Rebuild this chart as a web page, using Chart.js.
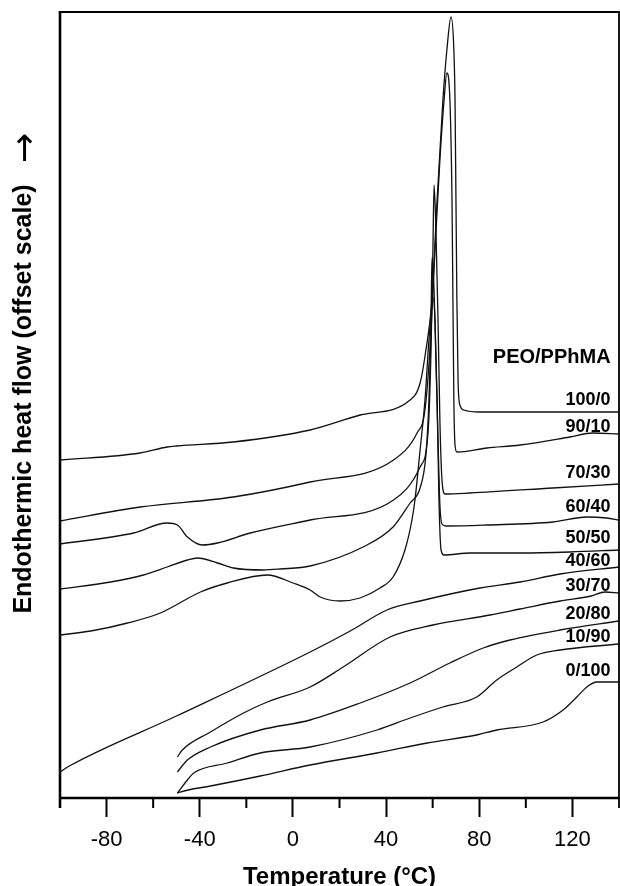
<!DOCTYPE html>
<html>
<head>
<meta charset="utf-8">
<script src="https://cdn.jsdelivr.net/npm/chart.js@4.4.0/dist/chart.umd.min.js"></script>
<style>
  html, body { margin: 0; padding: 0; background: #fff; }
</style>
</head>
<body>
<canvas id="dsc" width="620" height="886"></canvas>
<script>
// Curvas DSC de mezclas PEO/PPhMA
// temperatura en °C, flujo de calor en unidades arbitrarias (escala desplazada)
const t100_0 = [-100, -65.6, -54, -50, -25.6, 7.4, 28.9, 50.3, 54.6, 57.1, 59.7, 61.9, 64.4, 66.1, 67.9, 69.1, 69.6, 70.0, 70.4, 70.9, 71.7, 73.4, 80, 110, 140];
const h100_0 = [33.7, 34.4, 35.0, 35.1, 35.5, 36.7, 38.2, 39.7, 41.4, 44.7, 49.7, 59.7, 69.7, 74.7, 78.0, 74.7, 69.7, 59.7, 49.7, 41.7, 39.2, 38.7, 38.5, 38.5, 38.5];

const t90_10 = [-100, -65.6, -25.6, 7.4, 43.2, 53.3, 56.7, 58.8, 61.0, 63.1, 64.9, 66.1, 67.4, 68.3, 68.7, 69.1, 69.6, 70.4, 83.3, 97.5, 118.9, 128.7, 140];
const h90_10 = [27.6, 29.0, 30.0, 31.5, 33.7, 36.4, 38.7, 44.7, 54.7, 63.7, 69.7, 72.4, 69.7, 59.7, 49.7, 39.7, 35.2, 34.5, 34.9, 35.2, 36.0, 36.4, 36.3];

const t70_30 = [-100, -68.4, -54, -49.6, -45.3, -38.9, -32.4, -18.3, 7.4, 43.2, 54.6, 58.0, 59.3, 60.1, 60.6, 61.4, 62.3, 63.1, 64.0, 65.3, 76, 111.6, 140];
const h70_30 = [25.3, 26.4, 27.4, 27.2, 26.0, 25.2, 25.4, 26.4, 27.7, 29.7, 33.0, 36.4, 44.7, 54.7, 61.2, 56.7, 47.7, 37.7, 31.7, 30.3, 30.4, 30.9, 31.3];

const t60_40 = [-100, -78.3, -64.2, -54, -45.3, -41, -32.4, -25.6, -12.7, -5.4, 7.4, 30.1, 43, 50.3, 54.6, 57.1, 58.4, 59.3, 59.7, 60.6, 61.4, 62.3, 63.1, 64.0, 65.7, 83.3, 111.6, 126.2, 134.7, 140];
const h60_40 = [20.8, 21.5, 22.2, 23.0, 23.7, 23.9, 23.4, 22.9, 22.7, 22.8, 23.1, 25.0, 27.0, 29.4, 30.9, 34.2, 39.7, 47.7, 53.9, 50.7, 43.7, 35.7, 29.2, 27.3, 27.1, 27.2, 27.5, 28.0, 27.9, 27.7];

const t50_50 = [-100, -86.8, -71, -56.9, -39.7, -28.2, -11, 0.1, 7.4, 11.7, 20.3, 28.8, 37.4, 43, 48.1, 51.1, 52.4, 54.6, 56.7, 58.4, 60.2, 61.0, 61.9, 62.7, 63.6, 64.9, 76, 97.5, 118.9, 140];
const h50_50 = [16.2, 16.6, 17.4, 18.4, 20.5, 21.4, 22.2, 21.4, 20.7, 20.0, 19.6, 19.9, 20.9, 22.0, 24.7, 27.7, 29.7, 34.7, 39.7, 45.7, 49.9, 47.7, 39.7, 29.7, 24.7, 24.2, 24.4, 24.4, 24.5, 24.7];

const t40_60 = [-100, -96, -50, 7.4, 24.6, 40.4, 54.6, 80.3, 97.5, 114.7, 140];
const h40_60 = [2.5, 3.1, 8.1, 14.5, 16.6, 18.7, 19.6, 20.9, 21.5, 22.3, 23.0];

const t30_70 = [-49.6, -47.5, -35.4, -21.2, -11, 7.4, 21.6, 41.7, 60.1, 84.6, 97.5, 114.7, 128, 134, 140];
const h30_70 = [4.0, 4.7, 6.5, 8.4, 9.5, 11.0, 13.0, 16.0, 17.2, 18.2, 18.8, 19.6, 20.1, 20.5, 20.4];

const t20_80 = [-49.6, -45.3, -35.4, -14, 7.4, 28.9, 50.3, 67.4, 81.7, 93.2, 114.7, 140];
const h20_80 = [2.5, 3.7, 5.0, 6.7, 7.7, 9.4, 11.4, 13.4, 14.9, 15.7, 16.7, 17.6];

const t10_90 = [-49.6, -45.3, -42.6, -28.2, -14, 7.4, 36.1, 50.3, 64.4, 78.9, 87.5, 96.1, 104.7, 114.7, 140];
const h10_90 = [0.4, 1.7, 2.4, 3.4, 4.4, 5.0, 6.7, 7.9, 9.0, 10.0, 11.7, 13.0, 14.2, 14.7, 15.3];

const t0_100 = [-49.6, -45, -35.4, -14, 7.4, 36.1, 57.6, 78.9, 87.5, 107.4, 116, 121.9, 126.2, 130.4, 136, 140];
const h0_100 = [0.4, 0.7, 1.1, 2.1, 3.2, 4.4, 5.4, 6.2, 6.7, 7.5, 8.7, 10.0, 11.0, 11.5, 11.5, 11.5];

const composiciones = ['100/0', '90/10', '70/30', '60/40', '50/50', '40/60', '30/70', '20/80', '10/90', '0/100'];
const temperaturas = [t100_0, t90_10, t70_30, t60_40, t50_50, t40_60, t30_70, t20_80, t10_90, t0_100];
const flujos = [h100_0, h90_10, h70_30, h60_40, h50_50, h40_60, h30_70, h20_80, h10_90, h0_100];

// marcas del eje x
const ticksMayores = [-80, -40, 0, 40, 80, 120];
const ticksMenores = [-60, -20, 20, 60, 100];

const FUENTE = '"Liberation Sans", Arial, Helvetica, sans-serif';

// donde va cada rótulo (en unidades del gráfico), alineado a la derecha
const rotulos = {
  x: 136.4,
  titulo: { texto: 'PEO/PPhMA', y: 44.0 },
  y: [39.7, 37.0, 32.4, 29.0, 25.9, 23.6, 21.1, 18.3, 16.0, 12.6]
};

const marcoYTextos = {
  id: 'marcoYTextos',
  afterDraw(chart) {
    const { ctx, chartArea: a, scales: { x, y } } = chart;
    ctx.save();
    ctx.strokeStyle = '#000';
    ctx.lineCap = 'butt';

    // ejes izquierdo e inferior
    ctx.lineWidth = 2.6;
    ctx.beginPath();
    ctx.moveTo(a.left, a.top);
    ctx.lineTo(a.left, a.bottom + 10);
    ctx.moveTo(a.left - 1.3, a.bottom);
    ctx.lineTo(a.right, a.bottom);
    ctx.stroke();

    // arriba y derecha
    ctx.lineWidth = 2.2;
    ctx.beginPath();
    ctx.moveTo(a.left - 1.3, a.top);
    ctx.lineTo(a.right, a.top);
    ctx.stroke();
    ctx.lineWidth = 1.8;
    ctx.beginPath();
    ctx.moveTo(a.right, a.top - 1);
    ctx.lineTo(a.right, a.bottom + 10);
    ctx.stroke();

    // marcas menores
    ctx.lineWidth = 2;
    ctx.beginPath();
    ticksMenores.forEach(t => {
      const px = x.getPixelForValue(t);
      ctx.moveTo(px, a.bottom);
      ctx.lineTo(px, a.bottom + 10);
    });
    ctx.stroke();

    // rótulos de las composiciones
    ctx.fillStyle = '#000';
    ctx.textAlign = 'right';
    ctx.textBaseline = 'middle';
    const rx = x.getPixelForValue(rotulos.x);
    ctx.font = 'bold 20px ' + FUENTE;
    ctx.fillText(rotulos.titulo.texto, rx, y.getPixelForValue(rotulos.titulo.y));
    ctx.font = 'bold 18px ' + FUENTE;
    composiciones.forEach((c, i) => {
      ctx.fillText(c, rx, y.getPixelForValue(rotulos.y[i]));
    });

    // título del eje y con la flecha
    ctx.translate(24, 0);
    ctx.rotate(-Math.PI / 2);
    ctx.textAlign = 'center';
    ctx.font = 'bold 25px ' + FUENTE;
    ctx.fillText('Endothermic heat flow (offset scale)', -399, 0);
    ctx.font = '36px "DejaVu Sans", sans-serif';
    ctx.fillText('\u2192', -148, 3);
    ctx.restore();
  }
};

const datasets = composiciones.map((c, i) => ({
  label: c,
  data: temperaturas[i].map((t, j) => ({ x: t, y: flujos[i][j] })),
  borderColor: '#111',
  borderWidth: 1.3,
  pointRadius: 0,
  fill: false,
  cubicInterpolationMode: 'monotone'
}));

new Chart(document.getElementById('dsc'), {
  type: 'line',
  data: { datasets },
  options: {
    responsive: false,
    devicePixelRatio: 1,
    animation: false,
    layout: { padding: { left: 60, right: 1, top: 12, bottom: 0 } },
    scales: {
      x: {
        type: 'linear',
        min: -100,
        max: 140,
        afterFit: (scale) => { scale.height = 88; },
        afterBuildTicks: (scale) => {
          scale.ticks = ticksMayores.map(v => ({ value: v }));
        },
        ticks: {
          maxRotation: 0,
          autoSkip: false,
          padding: 10,
          color: '#000',
          font: { family: FUENTE, size: 22 }
        },
        grid: {
          drawOnChartArea: false,
          drawTicks: true,
          tickLength: 19,
          tickWidth: 2,
          tickColor: '#000'
        },
        border: { display: false },
        title: {
          display: true,
          text: 'Temperature (°C)',
          color: '#000',
          font: { family: FUENTE, size: 24, weight: 'bold', lineHeight: 1 },
          padding: { top: 0, bottom: -3 }
        }
      },
      y: {
        display: false,
        min: -0.1,
        max: 78.5
      }
    },
    plugins: {
      legend: { display: false },
      tooltip: { enabled: false }
    }
  },
  plugins: [marcoYTextos]
});
</script>
</body>
</html>
